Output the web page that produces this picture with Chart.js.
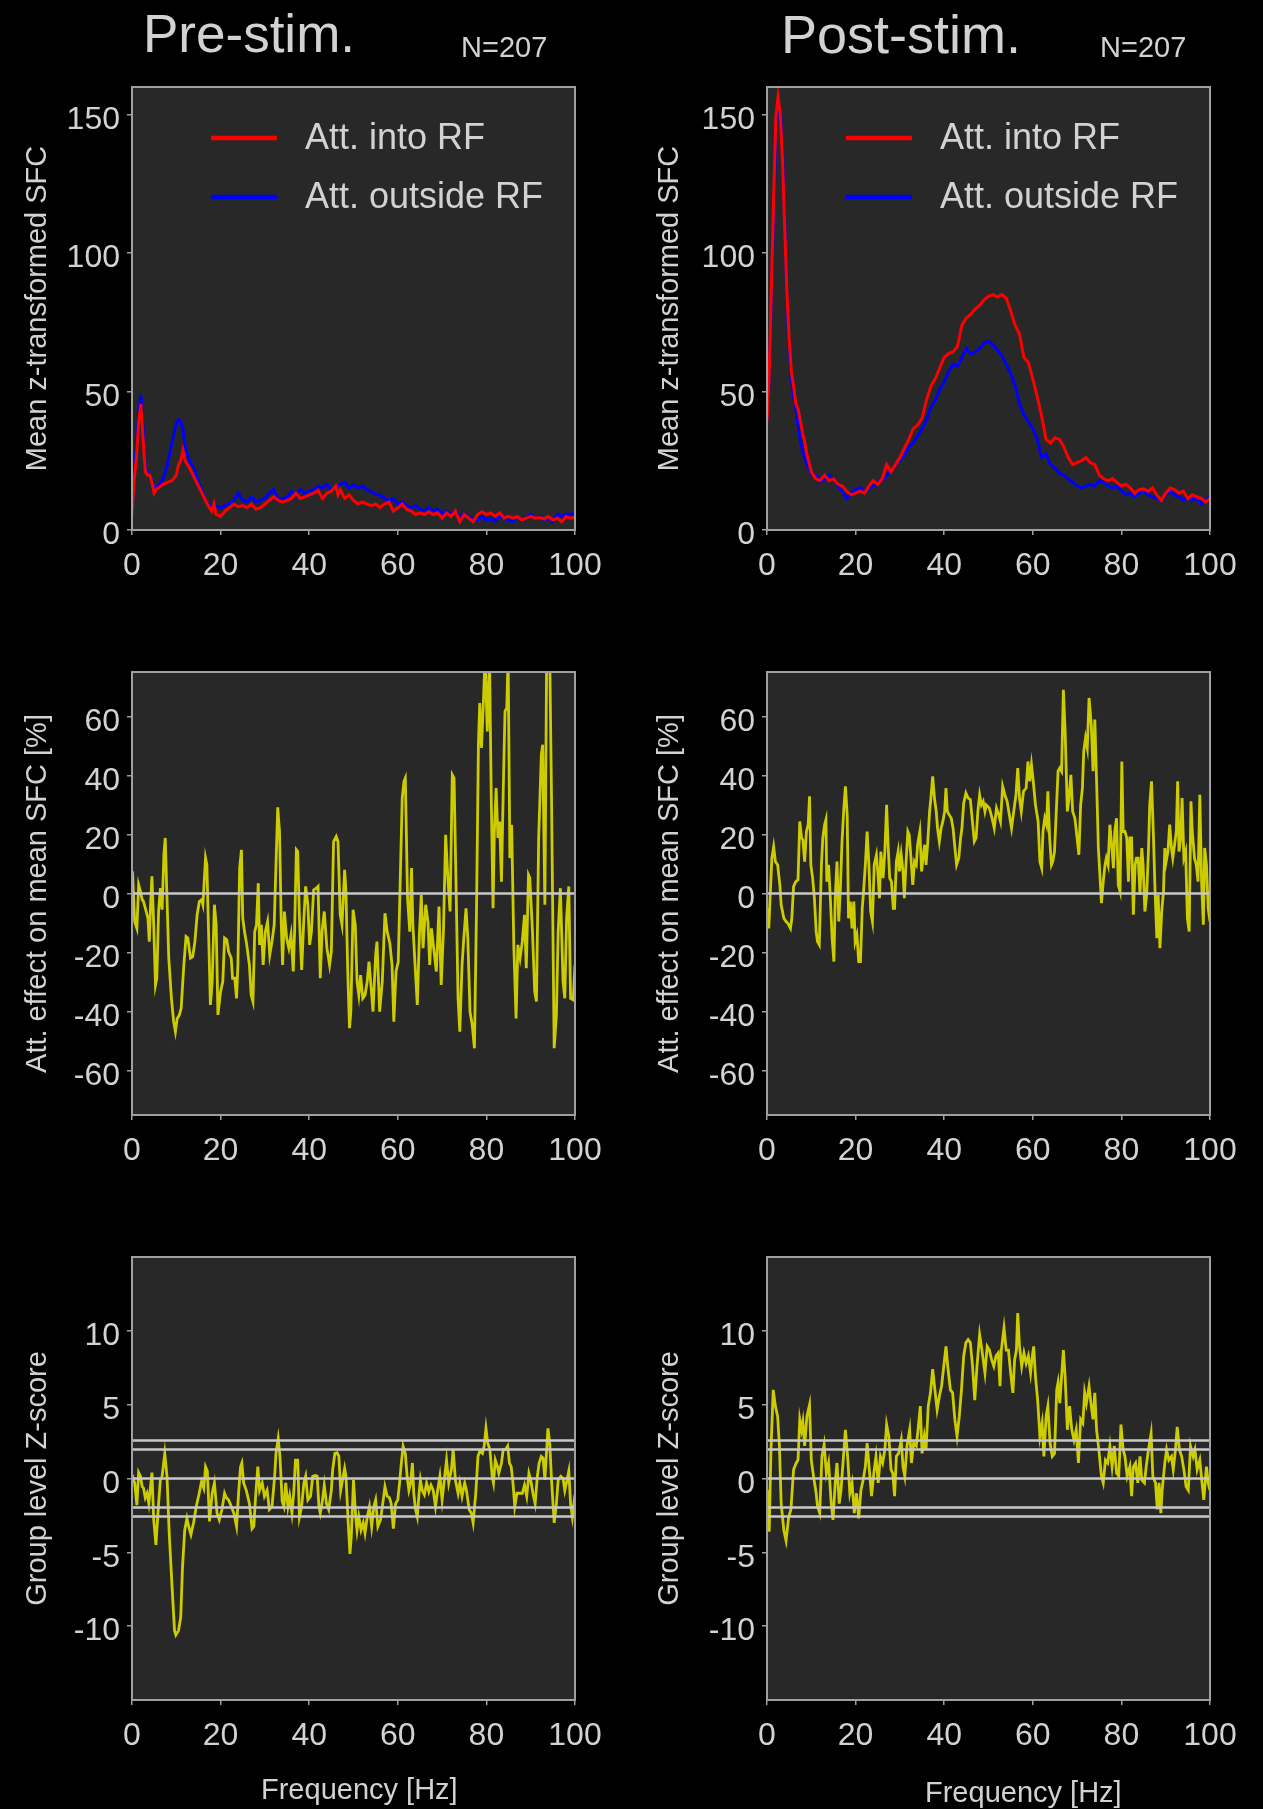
<!DOCTYPE html>
<html><head><meta charset="utf-8">
<script src="https://cdn.jsdelivr.net/npm/chart.js@4.4.0/dist/chart.umd.min.js"></script>
<style>
html,body{margin:0;padding:0;background:#000;}
body{width:1263px;height:1809px;position:relative;overflow:hidden;font-family:'Liberation Sans',Arial,sans-serif;}
canvas{position:absolute;}
.lbl{position:absolute;color:#d2d2d2;white-space:nowrap;line-height:1;}
</style></head><body>
<canvas id="cPreSfc" width="631" height="610" style="left:0px;top:0px"></canvas>
<canvas id="cPostSfc" width="632" height="610" style="left:631px;top:0px"></canvas>
<canvas id="cPreEff" width="631" height="595" style="left:0px;top:610px"></canvas>
<canvas id="cPostEff" width="632" height="595" style="left:631px;top:610px"></canvas>
<canvas id="cPreZ" width="631" height="604" style="left:0px;top:1205px"></canvas>
<canvas id="cPostZ" width="632" height="604" style="left:631px;top:1205px"></canvas>
<div class="lbl" style="left:143px;top:7px;font-size:53px">Pre-stim.</div>
<div class="lbl" style="left:461px;top:33px;font-size:29px">N=207</div>
<div class="lbl" style="left:781px;top:7px;font-size:54px">Post-stim.</div>
<div class="lbl" style="left:1100px;top:33px;font-size:29px">N=207</div>
<div class="lbl" style="left:261px;top:1775px;font-size:29px">Frequency [Hz]</div>
<div class="lbl" style="left:925px;top:1778px;font-size:29px">Frequency [Hz]</div>
<script>
// ---------------- DATA ----------------
const X_TICKS = [0, 20, 40, 60, 80, 100];
const SFC_TICKS = [0, 50, 100, 150];
const EFF_TICKS = [-60, -40, -20, 0, 20, 40, 60];
const Z_TICKS = [-10, -5, 0, 5, 10];
const SERIES_LABELS = ['Att. into RF', 'Att. outside RF'];
const Z_LEVELS = [0, 1.96, -1.96, 2.58, -2.58];
const EFF_LEVELS = [0];

// Pre-stim mean z-transformed SFC
const preSfcFreq = [0,0.5,1,1.5,2,2.5,3,3.5,4,4.5,5,5.5,6,7,8,9,10,10.5,11,11.5,12,13,14,15,16,17,18,18.5,
  19,20,21,22,23,24,25,26,27,28,29,30,31,32,33,34,35,36,37,38,39,40,41,42,43,44,45,46,46.5,
  47,48,49,50,51,52,53,54,55,56,57,58,59,60,61,62,63,64,65,66,67,68,69,70,71,72,73,74,75,76,77,78,79,80,
  81,82,83,84,85,86,87,88,89,90,91,92,93,94,95,96,97,98,99,100];
const preSfcInto = [5.6,18.5,26,39,45.6,32.7,21,19.8,19.8,17.2,13.3,14.6,15.2,16.5,17.2,17.8,19.8,23.6,25,28.8,25,22.4,19.1,15.9,12.7,9.4,6.8,9.4,
  5.6,4.9,6.8,8.1,9.4,8.4,8.8,8.1,9.4,7.5,8.1,9.4,10.7,12,10.7,10.1,10.7,11.4,13.3,11.4,12,12.7,13.3,14.3,11.4,13.3,14,15.9,12.7,
  14.6,11.4,12.7,10.7,9.4,10.1,9.4,8.8,9.4,8.1,9.4,10.1,6.8,8.1,9.4,7.5,6.8,5.6,6.2,5.6,6.6,5.6,6.2,4.3,6.2,4.9,6.8,3,5.6,4.3,3,5.6,6.6,5.6,
  6.2,4.9,6.2,4.3,4.9,4.3,4.9,3.6,4.3,4.9,4.3,4.5,4,4.9,3.6,4.3,3,4.9,4.3,4.5];
const preSfcOut = [5.6,19.8,30,41.7,48.8,36.6,22.4,21,19.8,17.8,15.2,15.5,15.9,18.5,23.6,31.4,38.5,39.8,39,36.6,30,25,22.4,17.2,13.3,9.4,8.8,8.8,
  8.8,8.1,8.8,9.4,10.7,13.3,10.7,10.1,12,10.1,10.7,11.4,13.3,14.6,10.7,11.4,11.8,14,12.7,14.6,13.3,14,14.6,15.9,15.2,16.5,14.6,15.6,16,
  16.5,17.2,15.2,16.5,15.2,15.9,14.6,14,12.7,12.7,11.4,10.7,11.4,9.4,10.1,8.8,8.1,8.8,7.5,6.8,8.1,6.8,7.5,5.6,6.8,5.6,6.6,4.9,5.8,4.5,4.3,3.6,4.9,3.6,
  4,3.2,4.9,4.3,3.6,3,4.9,3.6,4.3,5.6,4.3,4.9,3.6,4.3,3,5.6,4.9,5.8,5.6,6.2];

// Post-stim mean z-transformed SFC
const postSfcFreq = [0,0.5,1,1.5,2,2.5,3,3.5,4,4.5,5,5.5,6,6.5,7,7.5,8,8.5,9,
  10,11,12,13,14,15,16,17,18,19,20,21,22,23,24,25,26,27,28,29,30,31,32,33,34,35,36,37,38,39,40,
  41,42,43,44,45,46,47,48,49,50,51,52,53,54,55,56,57,58,59,60,61,62,63,64,65,66,67,68,69,70,
  71,72,73,74,75,76,77,78,79,80,81,82,83,84,85,86,87,88,89,90,91,92,93,94,95,96,97,98,99,100];
const postSfcInto = [39,56,88,120,149,156.5,150,133.5,109,85.7,68.9,57.2,52,45.6,43.7,39.8,35.3,32,27.5,
  21,18.5,17.8,19.8,17.8,18.5,16.5,15.9,14,12.7,13.3,14,13.3,15.9,17.8,16.5,18.5,23.6,21,23.6,26.2,29.5,32.7,36.6,37.9,40.4,46.9,52,54.7,58.5,62.4,
  63.7,64.3,66.3,74,76.6,77.9,79.8,81.1,83.1,84.4,85,84.1,85,83.7,79.2,74,70.8,62.4,60.5,54.7,48.2,41.1,32.7,31.4,33.3,32.7,30.1,26.2,23.6,24.3,
  25,26.2,24.3,23.6,19.8,18.5,17.8,18.5,17.2,15.9,16.5,15.2,13.3,14.6,14.9,14,15.2,12.7,10.7,13.3,15.2,14.6,13.3,14,11.4,12.7,12,11.4,10.1,11.4];
const postSfcOut = [39,54.7,84.4,114,142.5,154,152.8,137.3,111.5,83.1,65,54.7,48.2,44.3,37.9,32.7,28.8,26.2,23.6,
  20.4,19.8,17.2,18.5,19.8,18.5,15.9,14,11.4,13.3,14.6,15.2,14,14.9,15.9,17.2,17.8,19.8,21,23.6,25,26.9,30.1,31.4,34,36.6,39.8,44.3,46.9,50.8,53.4,
  57.2,59.8,59.2,62.4,65.6,63.7,64.3,65.6,67.6,68.2,66.9,65,63,59.8,56.6,52,45.6,41.7,39.1,36.6,32.7,26.2,27.5,23.6,22.4,20.4,19.8,18.5,17.2,15.9,
  15.2,15.9,16.5,15.9,17.8,17.2,15.9,15.2,15.9,14,12.7,13.3,12,13.3,14,12.7,12,11.4,10.7,12.7,14,12.7,12,10.7,12,10.7,11.4,9.4,10.7,12];

// Pre-stim attention effect [%]
const preEffFreq = [0.1,0.6,1.1,1.5,1.9,2.3,2.6,3.2,3.6,3.9,
  4.2,4.5,4.9,5.3,5.6,6.0,6.4,6.8,7.2,7.5,
  7.9,8.3,8.9,9.4,9.8,10.2,10.7,11.1,11.7,12.2,
  12.6,13.2,13.7,14.2,14.7,15.2,15.7,16.0,16.6,16.9,
  17.3,17.7,18.1,18.6,19.0,19.4,20.0,20.5,20.9,21.4,
  21.8,22.4,22.7,23.2,23.6,23.9,24.3,24.7,25.0,25.4,
  25.9,26.5,26.9,27.3,27.7,28.1,28.5,28.8,29.2,29.6,
  30.1,30.6,31.1,31.6,32.1,32.5,32.9,33.3,33.7,34.0,
  34.4,34.9,35.4,35.9,36.4,36.7,37.1,37.4,37.8,38.3,
  38.8,39.2,39.7,40.1,40.5,41.0,41.6,42.0,42.5,42.9,
  43.4,44.0,44.6,45.0,45.5,46.1,46.5,47.0,47.4,48.0,
  48.3,48.7,49.1,49.4,49.9,50.4,50.8,51.2,51.6,52.1,
  52.6,53.1,53.5,54.0,54.4,55.0,55.3,55.9,56.5,57.1,
  57.6,58.2,58.7,59.1,59.6,60.1,60.6,61.0,61.4,61.7,
  62.2,62.7,63.1,63.4,63.9,64.4,64.9,65.3,65.7,66.3,
  66.8,67.2,67.6,68.1,68.7,69.3,69.8,70.3,70.8,71.3,
  71.8,72.3,72.7,73.2,73.6,74.0,74.5,74.9,75.4,75.8,
  76.3,76.8,77.3,77.8,78.2,78.5,78.9,79.3,79.7,80.2,
  80.7,81.1,81.5,81.8,82.2,82.6,83.0,83.4,83.8,84.2,
  84.6,84.9,85.3,85.7,86.2,86.7,87.1,87.6,88.1,88.6,
  89.0,89.5,89.8,90.4,90.9,91.3,91.8,92.4,92.7,93.2,
  93.6,94.3,94.7,95.3,95.8,96.2,96.7,97.3,97.7,98.1,
  98.6,99.0,99.6,100];
const preEff = [7.5,-9.5,-11.8,2.9,0.7,-2.1,-2.7,-6.1,-8.4,-16.3,
  -3.8,5.8,-10.6,-31,-28.7,-6.1,1.8,-5.5,13.1,18.8,
  -1.6,-21.9,-35.5,-43.4,-46.8,-42.3,-41.1,-38.9,-24.2,-14.6,
  -15.1,-21.9,-21.4,-16.3,-7.2,-2.7,-2.1,-3.8,12.0,9.7,
  -14.0,-37.7,-29.8,-3.8,-10.6,-41.1,-33.2,-29.8,-15.1,-15.7,
  -19.7,-21.9,-28.7,-28.7,-35.5,-24.2,8.6,14.8,-8.4,-12.9,
  -17.4,-24.2,-34.4,-36.6,-12.9,-10.6,3.5,-17.4,-10.6,-24.2,
  -12.9,-9.5,-20.8,-16.3,-10.6,9.7,29.2,21,-10.6,-24.2,
  -6.1,-15.1,-18.5,-14.0,-26.4,-12.9,14.8,14.2,-8.4,-25.9,
  -8.4,2.4,-3.8,-17.4,-12.9,1.2,1.8,2.4,-28.7,-12.9,
  -6.1,-18.5,-24.2,-19.7,17.6,19.3,17.6,-7.2,-10.6,8.0,
  0.7,-26.4,-45.6,-40,-5.5,-10.6,-29.8,-34.4,-27.6,-35.5,
  -34.4,-29.8,-23.1,-32.1,-40,-20.8,-16.3,-40,-29.8,-6.7,
  -12.9,-16.8,-24.2,-43.4,-26.4,-23.1,7.5,32.3,38,39.1,
  -1.6,-12.9,8.6,-10.6,-24.2,-37.7,-12.9,-0.5,-18.5,-3.8,
  -9.5,-24.2,-11.8,-18.5,-26.4,-4.4,-31,-12.9,19.9,5.2,
  -6.1,40.2,39.1,-1.6,-35.5,-46.8,-24.2,-15.1,-5,-15.1,
  -40,-44.5,-52.4,-1.6,50.4,64.5,49.3,64,80,54.9,
  80,32.3,-5,21,35.7,18.8,24.4,4,34.6,61.7,
  62.8,80,12,23.3,-18.5,-42.3,-17.4,-21.9,-16.3,-7.2,
  -25.3,6.3,5.2,-12.9,-33.2,-36.6,18.8,47,50.4,-3.8,
  80,80,32.3,-52.4,-41.1,-12.9,1.8,-29.8,-35.5,-8.4,
  2.4,-35.5,-36,-24.2];

// Post-stim attention effect [%]
const postEffFreq = [0.1,0.4,0.7,1.1,1.5,1.9,2.4,2.9,3.2,3.8,
  4.3,4.7,5.3,5.6,6.0,6.5,7.0,7.4,7.8,8.1,
  8.5,8.9,9.3,9.6,9.9,10.3,10.7,11.1,11.4,11.8,
  12.3,12.6,13.0,13.3,13.5,13.9,14.3,14.7,15.1,15.4,
  15.8,16.2,16.6,16.9,17.3,17.7,18.1,18.4,18.8,19.2,
  19.6,19.9,20.3,20.7,21.1,21.5,21.8,22.2,22.6,23.0,
  23.4,23.8,24.2,24.7,25.0,25.4,25.7,26.2,26.6,27.0,
  27.3,27.7,28.1,28.5,28.8,29.2,29.6,29.9,30.3,30.7,
  31.0,31.4,31.8,32.1,32.5,32.9,33.3,33.7,34.0,34.5,
  34.9,35.2,35.6,35.9,36.3,36.7,37.0,37.4,37.8,38.2,
  38.5,38.9,39.3,39.7,40.1,40.4,40.7,41.1,41.6,42.0,
  42.5,42.8,43.3,43.7,44.0,44.4,44.9,45.4,45.9,46.3,
  46.8,47.2,47.6,48.0,48.4,48.8,49.2,49.5,50.2,50.8,
  51.3,51.8,52.3,52.7,53.2,53.7,54.2,54.7,55.2,55.7,
  56.2,56.6,57.0,57.4,57.9,58.5,58.9,59.3,59.7,60.1,
  60.6,61.2,61.6,62.0,62.3,62.7,63.1,63.4,63.8,64.2,
  64.5,64.9,65.4,65.7,66.1,66.5,66.9,67.3,67.8,68.1,
  68.6,69.0,69.5,70.0,70.4,70.8,71.2,71.5,71.9,72.3,
  72.7,73.2,73.6,74.0,74.4,74.8,75.1,75.5,75.9,76.3,
  76.6,77.0,77.4,77.8,78.2,78.5,78.9,79.3,79.7,80.1,
  80.4,80.8,81.2,81.6,81.9,82.3,82.7,83.1,83.4,83.8,
  84.2,84.6,84.9,85.3,85.7,86.1,86.4,86.8,87.2,87.6,
  88.0,88.3,88.7,89.1,89.5,89.8,90.1,90.5,90.9,91.3,
  91.6,92.0,92.4,92.7,93.0,93.4,93.7,94.1,94.5,94.9,
  95.3,95.7,96.0,96.5,96.9,97.3,97.7,98.1,98.5,98.8,
  99.2,99.6,100];
const postEff = [-5,-11.8,-1.6,12,15.9,10.8,9.7,2.9,-3.8,-8.4,
  -9.5,-10.1,-11.8,-8.4,2.4,4,4.6,24.4,18.8,18.2,
  10.8,21,23.3,32.9,9.7,5.2,-1.6,-12.9,-16.3,-17.4,
  10.3,18.8,23.3,25,4,9.7,-1.6,-15.1,-23.1,-1.6,
  10.8,-9.5,2.9,16.5,27.8,36.3,26.7,-8.4,-2.7,-11.8,
  -2.7,-16.3,-14,-23.1,-23.1,-5,0.7,9.7,21,9.7,
  -6.1,-9.5,9.7,13.1,7.5,-1.6,14.2,5.2,14.2,30,
  17.6,5.2,4,-5,-5,10.8,14.2,7.5,13.1,7.5,
  -1.6,10.8,21,19.9,12,2.9,10.8,9.7,16.5,21,
  7.5,12,16.5,9.7,17.6,27.8,32.3,39.7,32.3,27.8,
  22.1,17.6,22.1,24.4,27.8,35.7,27.8,26.7,25.5,22.1,
  14.2,9.7,12,18.8,22.1,30.6,34,32.3,31.8,25.5,
  17.6,18.8,27.8,33.4,30,31.2,27.8,30,28.9,25.5,
  22.1,28.9,26.7,24.4,36.3,33.4,31.2,26.7,22.1,27.8,
  33.4,42.5,32.3,27.8,34.6,35.7,44.7,38,43.6,38,
  30,24.4,10.8,8.6,21,25.5,23.3,34.6,18.8,9.7,
  10.8,14.2,31.2,41.4,42.5,41.4,69,54.9,27.8,31.2,
  40.2,27.8,25.5,18.8,13.1,30,35.7,48.1,52.7,49.3,
  66.2,57.2,41.4,58.9,38,15.4,7.5,-3.3,4,9.7,
  12,9.7,23.3,16.5,8.6,21,25.5,2.9,0.7,44.7,
  21,21,18.8,4,18.8,18.8,-7.2,9.7,12,12,
  -0.5,15.4,9.7,-6.1,-0.5,14.2,30,38,21,0.7,
  -15.1,-0.5,-18.5,-6.1,0.7,15.4,10.8,14.2,23.3,15.4,
  12,16.5,21,38,14.2,18.8,32.3,12,14.2,-8.4,
  -12.9,31.2,21,12,9.7,4,33.4,4,-10.6,15.4,
  9.7,-5,-9.5];

// Pre-stim group level Z-score
const preZFreq = [0,0.6,1.1,1.5,1.9,2.3,2.6,3.0,3.4,3.8,
  4.1,4.5,4.9,5.4,6.0,6.4,6.8,7.4,7.9,8.4,
  9.0,9.6,9.9,10.5,11.0,11.4,11.9,12.4,12.8,13.3,
  13.9,14.5,15.1,15.7,16.2,16.6,17.0,17.5,18.1,18.6,
  19.2,19.7,20.3,20.9,21.3,21.8,22.4,23.0,23.6,24.1,
  24.5,24.8,25.2,25.8,26.5,27.1,27.5,27.9,28.4,28.8,
  29.4,29.9,30.5,31.0,31.6,32.2,32.5,33.0,33.4,33.9,
  34.3,34.7,35.2,35.6,36.1,36.5,36.9,37.4,37.8,38.3,
  38.8,39.2,39.7,40.3,40.8,41.4,41.8,42.2,42.5,42.9,
  43.4,43.9,44.4,45.0,45.3,45.8,46.3,46.7,47.1,47.4,
  48.0,48.3,48.8,49.2,49.5,50.0,50.5,50.8,51.2,51.7,
  52.2,52.6,53.1,53.6,54.1,54.6,55.0,55.5,56.1,56.6,
  57.1,57.6,58.1,58.5,59.0,59.5,60.0,60.4,60.8,61.2,
  61.7,62.1,62.5,62.9,63.3,63.6,64.0,64.4,64.8,65.1,
  65.5,66.0,66.5,67.0,67.5,68.0,68.5,69.0,69.5,70.0,
  70.5,71.0,71.5,72.1,72.5,73.0,73.6,74.0,74.5,75.1,
  75.5,76.1,76.6,77.0,77.6,78.1,78.5,79.1,79.5,79.9,
  80.3,80.8,81.3,81.6,82.0,82.5,82.8,83.4,83.8,84.3,
  84.8,85.2,85.6,86.0,86.4,86.9,87.5,88.1,88.6,89.1,
  89.6,90.0,90.5,91.0,91.5,91.9,92.4,92.8,93.2,93.6,
  93.9,94.3,94.7,95.3,95.8,96.2,96.8,97.3,97.7,98.2,
  98.6,99.0,99.4,100];
const preZ = [0.25,-0.3,-1.8,0.4,0.15,-0.55,-0.65,-1.3,-1.0,-1.7,
  -0.8,0.4,-2.8,-4.5,-1.7,-0.1,0.15,1.7,0.15,-3.7,
  -7.1,-10.3,-10.6,-10.3,-9.4,-6.0,-3.5,-2.7,-3.25,-3.8,
  -3.0,-1.9,-1.1,-0.2,-0.65,0.8,0.5,-2.9,-1.0,-0.3,
  -2.35,-2.8,-2.1,-1.0,-1.3,-1.45,-1.9,-2.35,-3.25,-0.8,
  0.8,1.05,-0.3,-0.8,-1.7,-3.4,-3.25,-1.2,0.8,-0.8,
  -0.3,-1.2,-0.8,-2.1,-1.9,0.15,1.7,2.7,1.5,-1.55,
  -1.9,-0.3,-1.9,-1.2,-2.35,-1.0,1.25,1.25,-2.6,-1.9,
  -0.3,0.15,-1.45,-1.2,0.15,0.2,0.15,-1.9,-2.35,-1.7,
  -0.45,-1.7,-2.1,-0.8,0.6,1.7,1.75,1.5,-0.8,-0.3,
  0.7,0.15,-3.0,-5.1,-3.9,-0.1,-2.6,-3.5,-2.6,-3.5,
  -3.0,-3.7,-2.6,-1.9,-3.25,-1.9,-1.45,-3.25,-2.8,-1.7,
  -0.55,-1.2,-1.3,-1.7,-3.4,-1.7,-1.45,-0.3,1.05,2.2,
  1.7,0.15,-0.8,-0.3,1.05,-1.0,-2.1,-2.6,-1.0,-0.1,
  -0.8,-1.1,-0.3,-0.9,-0.45,-0.8,-1.9,-0.8,0.15,-1.45,
  -0.1,1.25,-0.3,0.6,1.95,-0.1,-1.0,-0.3,-1.2,-0.3,
  -0.8,-2.1,-2.35,-3.0,-1.0,1.5,1.85,1.7,2.2,3.4,
  2.4,1.95,0.15,-0.3,1.25,0.8,0.35,1.05,1.95,1.95,
  2.2,1.05,0.8,-0.3,-1.9,-1.0,-1.0,-1.0,-0.45,-1.2,
  0.35,-0.1,-1.0,-1.7,0.15,1.05,1.5,1.4,-0.1,1.95,
  3.4,2.4,-0.1,-3.0,-1.7,-0.1,0.15,0.0,-0.8,-0.1,
  0.5,-1.7,-2.6,-1.1];

// Post-stim group level Z-score
const postZFreq = [0.15,0.5,0.9,1.4,1.9,2.4,2.8,3.2,3.8,4.3,
  4.9,5.4,6.0,6.6,7.0,7.4,7.8,8.1,8.5,9.0,
  9.6,10.0,10.5,11.1,11.4,11.9,12.4,12.9,13.4,13.9,
  14.5,14.9,15.4,15.8,16.3,16.7,17.2,17.7,18.2,18.7,
  19.2,19.7,20.2,20.7,21.2,21.7,22.2,22.6,23.1,23.6,
  24.1,24.6,25.1,25.6,26.1,26.6,27.0,27.5,28.0,28.4,
  28.8,29.2,29.7,30.3,30.7,31.1,31.6,32.2,32.6,33.1,
  33.7,34.1,34.6,35.0,35.5,35.9,36.4,36.9,37.4,37.9,
  38.4,38.9,39.4,39.9,40.4,40.8,41.4,41.9,42.4,42.9,
  43.4,43.9,44.4,44.9,45.4,45.9,46.4,46.9,47.4,48.0,
  48.4,48.8,49.2,49.7,50.2,50.7,51.2,51.7,52.2,52.6,
  52.9,53.5,54.0,54.5,55.0,55.5,55.9,56.3,56.6,57.0,
  57.5,58.0,58.5,59.0,59.5,59.9,60.2,60.6,61.1,61.6,
  62.1,62.5,63.0,63.4,63.9,64.4,64.9,65.4,65.7,66.1,
  66.5,66.9,67.3,67.8,68.3,68.8,69.3,69.8,70.3,70.8,
  71.3,71.7,72.1,72.7,73.2,73.6,74.0,74.4,74.9,75.5,
  75.9,76.4,76.9,77.4,77.9,78.4,78.9,79.4,79.9,80.4,
  80.8,81.3,81.9,82.3,82.7,83.2,83.7,84.2,84.6,85.2,
  85.6,86.1,86.7,87.1,87.7,88.1,88.5,88.9,89.2,89.8,
  90.2,90.7,91.3,91.7,92.2,92.6,93.1,93.6,94.1,94.6,
  95.1,95.6,96.2,96.6,97.1,97.7,98.2,98.6,99.2,99.6,
  100];
const postZ = [-0.8,-3.6,1.95,6.0,4.9,4.2,2.2,-1.7,-3.5,-4.2,
  -2.6,-2.1,0.6,1.05,1.25,4.0,3.3,3.85,2.2,4.2,
  5.0,1.25,0.15,-1.0,-1.9,-2.35,1.5,2.3,0.35,1.05,
  -1.7,-2.8,-0.3,1.05,-1.7,-0.8,1.25,3.3,1.5,-1.0,
  -0.3,-2.35,-1.0,-2.7,-0.8,-0.1,0.8,2.4,0.6,-1.2,
  0.35,1.5,-0.3,1.5,1.05,1.95,3.65,2.85,0.6,0.35,
  -1.2,1.5,1.7,2.6,0.8,0.15,2.2,3.3,1.05,2.4,
  2.2,3.3,4.9,1.7,2.85,1.95,4.9,5.8,7.4,6.0,
  4.65,5.55,6.25,7.6,8.95,7.6,6.0,5.8,4.0,2.85,
  4.2,6.0,8.3,9.2,9.4,9.2,7.6,5.3,7.6,9.75,
  8.95,8.05,7.15,8.95,8.7,8.05,7.6,8.3,8.5,6.25,
  8.7,10.2,8.7,8.7,7.15,5.8,8.05,8.7,11.2,8.95,
  7.6,8.5,7.8,8.3,7.15,8.3,8.95,6.9,5.3,2.85,
  3.75,1.5,4.2,4.9,2.4,1.5,1.7,6.0,6.5,5.1,
  6.9,8.7,6.9,3.3,4.9,3.3,2.6,3.3,1.05,4.0,
  3.75,5.8,5.1,6.25,4.9,4.0,5.8,3.3,1.95,0.15,
  -0.3,1.25,1.05,2.2,0.8,2.2,0.35,0.15,3.65,1.95,
  1.5,0.15,0.8,-1.2,0.8,1.05,-0.3,1.5,-0.1,-0.3,
  0.8,1.95,3.05,0.15,-0.3,-2.1,-0.3,-2.35,-0.8,1.05,
  1.95,1.25,1.5,0.6,1.95,3.5,1.95,1.5,0.6,-0.55,
  -0.8,2.2,1.5,1.95,0.6,1.25,-0.3,-1.45,0.8,-0.3,
  -0.8];

// ---------------- STYLE ----------------
const PLOT_BG = '#282828';
const FRAME = '#a0a0a0';
const TEXT = '#d2d2d2';
const REF_LINE = '#c8c8c8';
const YELLOW = '#cccc00';
const RED = '#ff0000';
const BLUE = '#0000ff';
const FONT = "'Liberation Sans', Arial, sans-serif";
const X_AXIS_H = 60;

Chart.defaults.font.family = FONT;
Chart.defaults.color = TEXT;

function pts(fr, vals) {
  const n = Math.min(fr.length, vals.length);
  const out = [];
  for (let i = 0; i < n; i++) out.push({x: fr[i], y: vals[i]});
  return out;
}
function hline(v) { return [{x: 0, y: v}, {x: 100, y: v}]; }

const frame = {
  id: 'frame',
  beforeDraw(chart) {
    const {ctx, chartArea: a} = chart;
    ctx.save();
    ctx.fillStyle = PLOT_BG;
    ctx.fillRect(a.left, a.top, a.right - a.left, a.bottom - a.top);
    ctx.restore();
  },
  afterDraw(chart) {
    const {ctx, chartArea: a} = chart;
    ctx.save();
    ctx.strokeStyle = FRAME;
    ctx.lineWidth = 2;
    ctx.strokeRect(a.left, a.top, a.right - a.left, a.bottom - a.top);
    const leg = chart.options.plugins.inLegend;
    if (leg && leg.show) {
      chart.data.datasets.forEach((ds, i) => {
        if (!ds.legendEntry) return;
        const y = a.top + 51 + i * 59;
        ctx.strokeStyle = ds.borderColor;
        ctx.lineWidth = 4.5;
        ctx.beginPath();
        ctx.moveTo(a.left + 79, y);
        ctx.lineTo(a.left + 145, y);
        ctx.stroke();
        ctx.fillStyle = TEXT;
        ctx.font = '36px ' + FONT;
        ctx.textBaseline = 'middle';
        ctx.textAlign = 'left';
        ctx.fillText(ds.label, a.left + 173, y + 1);
      });
    }
    ctx.restore();
  }
};

const COLS = [{left: 0, width: 631, L: 132, R: 575, titlePad: 21},
              {left: 631, width: 632, L: 767, R: 1210, titlePad: 22}];
const ROWS = [{top: 0, height: 610, T: 87, B: 530},
              {top: 610, height: 595, T: 672, B: 1115},
              {top: 1205, height: 604, T: 1257, B: 1700}];

function makePanel(id, col, row, datasets, yMin, yMax, yTicks, yTitle, legend) {
  const c = COLS[col], r = ROWS[row];
  new Chart(document.getElementById(id), {
    type: 'line',
    data: {datasets},
    options: {
      responsive: false,
      animation: false,
      devicePixelRatio: 1,
      layout: {padding: {left: 0, top: r.T - r.top, right: c.left + c.width - c.R,
                          bottom: r.top + r.height - r.B - X_AXIS_H}},
      elements: {point: {radius: 0}, line: {tension: 0}},
      plugins: {legend: {display: false}, tooltip: {enabled: false}, inLegend: {show: legend}},
      scales: {
        x: {
          type: 'linear', min: 0, max: 100,
          afterBuildTicks: s => { s.ticks = X_TICKS.map(v => ({value: v})); },
          afterFit: s => { s.height = X_AXIS_H; },
          grid: {display: true, drawOnChartArea: false, drawTicks: true, tickLength: 5, color: FRAME, lineWidth: 1.5},
          border: {display: false},
          ticks: {color: TEXT, font: {size: 32}, padding: 12, maxRotation: 0, autoSkip: false,
                  callback: v => String(v)}
        },
        y: {
          type: 'linear', min: yMin, max: yMax,
          afterBuildTicks: s => { s.ticks = yTicks.map(v => ({value: v})); },
          afterFit: s => { s.width = c.L - c.left; },
          grid: {display: true, drawOnChartArea: false, drawTicks: true, tickLength: 5, color: FRAME, lineWidth: 1.5},
          border: {display: false},
          ticks: {color: TEXT, font: {size: 32}, padding: 7, labelOffset: 5.5, autoSkip: false, callback: v => String(v)},
          title: {display: true, text: yTitle, color: TEXT, font: {size: 29}, padding: {top: c.titlePad, bottom: 0}}
        }
      }
    },
    plugins: [frame]
  });
}

function sfcSets(fr, into, out) {
  return [
    {label: SERIES_LABELS[0], data: pts(fr, into), borderColor: RED, borderWidth: 3, legendEntry: true},
    {label: SERIES_LABELS[1], data: pts(fr, out), borderColor: BLUE, borderWidth: 3, legendEntry: true}
  ];
}
function yellowSets(fr, vals, levels) {
  const sets = levels.map(v => ({label: 'ref ' + v, data: hline(v), borderColor: REF_LINE, borderWidth: 2.5, order: 0}));
  sets.push({label: 'effect', data: pts(fr, vals), borderColor: YELLOW, borderWidth: 2.8, order: 1});
  return sets;
}

makePanel('cPreSfc', 0, 0, sfcSets(preSfcFreq, preSfcInto, preSfcOut), 0, 160, SFC_TICKS, 'Mean z-transformed SFC', true);
makePanel('cPostSfc', 1, 0, sfcSets(postSfcFreq, postSfcInto, postSfcOut), 0, 160, SFC_TICKS, 'Mean z-transformed SFC', true);
makePanel('cPreEff', 0, 1, yellowSets(preEffFreq, preEff, EFF_LEVELS), -75, 75, EFF_TICKS, 'Att. effect on mean SFC [%]', false);
makePanel('cPostEff', 1, 1, yellowSets(postEffFreq, postEff, EFF_LEVELS), -75, 75, EFF_TICKS, 'Att. effect on mean SFC [%]', false);
makePanel('cPreZ', 0, 2, yellowSets(preZFreq, preZ, Z_LEVELS), -15, 15, Z_TICKS, 'Group level Z-score', false);
makePanel('cPostZ', 1, 2, yellowSets(postZFreq, postZ, Z_LEVELS), -15, 15, Z_TICKS, 'Group level Z-score', false);
</script>
</body></html>
